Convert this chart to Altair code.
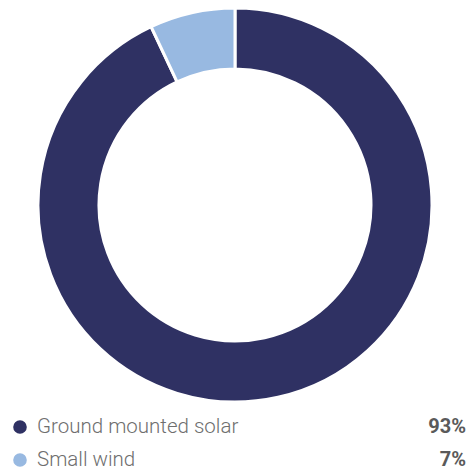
import altair as alt
import pandas as pd

categories = ["Ground mounted solar", "Small wind"]
values = [93, 7]
labels = ["93%", "7%"]
colors = ["#2f3163", "#98b9e1"]

df = pd.DataFrame({
    "category": categories,
    "value": values,
    "label": labels,
    "idx": list(range(len(categories))),
})

color_scale = alt.Scale(domain=categories, range=colors)

arc = alt.Chart(df).mark_arc(
    radius=197, innerRadius=136, stroke="white", strokeWidth=3
).encode(
    theta=alt.Theta("value:Q", stack=True),
    color=alt.Color("category:N", scale=color_scale, legend=None),
    order=alt.Order("idx:Q"),
    x=alt.value(227),
    y=alt.value(197),
)

yscale = alt.Scale(domain=[0, 1], range=[419, 452])

dots = alt.Chart(df).mark_point(filled=True, opacity=1, size=185).encode(
    x=alt.value(12),
    y=alt.Y("idx:Q", scale=yscale, axis=None),
    color=alt.Color("category:N", scale=color_scale, legend=None),
)

names = alt.Chart(df).mark_text(
    align="left", baseline="middle", font="Roboto", fontSize=20.5,
    fontWeight=300, color="#6e6e6e"
).encode(
    x=alt.value(29),
    y=alt.Y("idx:Q", scale=yscale, axis=None),
    text="category:N",
)

pcts = alt.Chart(df).mark_text(
    align="right", baseline="middle", font="Roboto", fontSize=20,
    fontWeight="bold", color="#5a5a5a"
).encode(
    x=alt.value(458),
    y=alt.Y("idx:Q", scale=yscale, axis=None),
    text="label:N",
)

chart = alt.layer(arc, dots, names, pcts).properties(
    width=458, height=462,
    autosize=alt.AutoSizeParams(type="none"),
    padding=0,
).configure_view(stroke=None)

chart.save("out.html", embed_options={"renderer": "svg", "actions": False})
